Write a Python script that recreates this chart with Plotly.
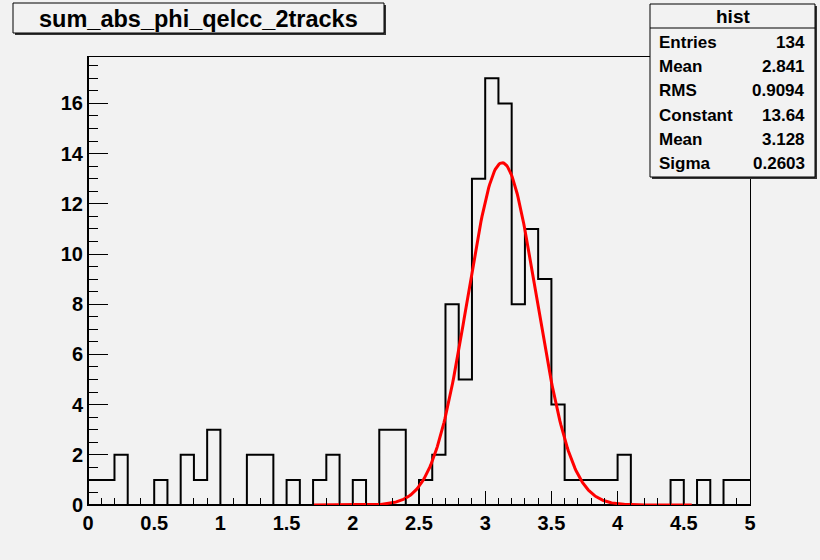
import numpy as np
import plotly.graph_objects as go

# ---- data ----
bin_low = 0.0
bin_width = 0.1
counts = [1, 1, 2, 0, 0, 1, 0, 2, 1, 3,
          0, 0, 2, 2, 0, 1, 0, 1, 2, 0,
          1, 0, 3, 3, 0, 1, 2, 8, 5, 13,
          17, 16, 8, 11, 9, 4, 1, 1, 1, 1,
          2, 0, 0, 0, 1, 0, 1, 0, 1, 1]
fit_constant = 13.64
fit_mean = 3.128
fit_sigma = 0.2603
fit_range = [1.7, 4.56]
title_text = "sum_abs_phi_qelcc_2tracks"
stats_labels = ["Entries", "Mean", "RMS", "Constant", "Mean", "Sigma"]
stats_values = ["134", "2.841", "0.9094", "13.64", "3.128", "0.2603"]
x_ticks = [0, 0.5, 1, 1.5, 2, 2.5, 3, 3.5, 4, 4.5, 5]
x_ticklabels = ["0", "0.5", "1", "1.5", "2", "2.5", "3", "3.5", "4", "4.5", "5"]
y_ticks = [0, 2, 4, 6, 8, 10, 12, 14, 16]
y_ticklabels = ["0", "2", "4", "6", "8", "10", "12", "14", "16"]

# ---- geometry ----
W, H = 820, 560
ML, MR, MT, MB = 88, 70, 57, 55
PW, PH = W - ML - MR, H - MT - MB


def px(x):
    return (x - ML) / PW


def py(y):
    return (H - MB - y) / PH


edges = [round(bin_low + i * bin_width, 6) for i in range(len(counts) + 1)]
step_y = counts + [counts[-1]]

fx = np.linspace(fit_range[0], fit_range[1], 400)
fy = fit_constant * np.exp(-0.5 * ((fx - fit_mean) / fit_sigma) ** 2)

fig = go.Figure()
fig.add_trace(go.Scatter(x=edges, y=step_y, mode="lines", line_shape="hv",
                         line=dict(color="black", width=2), hoverinfo="skip"))
fig.add_trace(go.Scatter(x=fx, y=fy, mode="lines",
                         line=dict(color="#ff0000", width=3), hoverinfo="skip"))

FONT = "Liberation Sans, Arial, sans-serif"
BG = "#f2f2f2"

fig.update_layout(
    width=W, height=H,
    margin=dict(l=ML, r=MR, t=MT, b=MB, pad=0),
    paper_bgcolor=BG, plot_bgcolor=BG,
    showlegend=False,
    font=dict(family=FONT, color="black"),
)
fig.update_xaxes(range=[0, 5], showgrid=False, zeroline=False,
                 showline=True, linecolor="black", linewidth=1, mirror=True,
                 ticks="inside", ticklen=14, tickwidth=1, tickcolor="black",
                 tickvals=x_ticks, ticktext=x_ticklabels,
                 tickfont=dict(size=20, family=FONT, weight="bold"),
                 minor=dict(dtick=0.1, ticks="inside", ticklen=7, tickcolor="black", tickwidth=1))
fig.update_yaxes(range=[0, 17.85], showgrid=False, zeroline=False,
                 showline=True, linecolor="black", linewidth=1, mirror=True,
                 ticks="inside", ticklen=20, tickwidth=1, tickcolor="black",
                 tickvals=y_ticks, ticktext=y_ticklabels,
                 tickfont=dict(size=20, family=FONT, weight="bold"),
                 minor=dict(dtick=0.5, ticks="inside", ticklen=10, tickcolor="black", tickwidth=1))

shapes = []
annots = []

# thicker left / bottom axis lines
shapes.append(dict(type="line", xref="paper", yref="paper", x0=0, x1=0, y0=0, y1=1,
                   line=dict(color="black", width=2), layer="below"))
shapes.append(dict(type="line", xref="paper", yref="paper", x0=0, x1=1, y0=0, y1=0,
                   line=dict(color="black", width=2), layer="below"))


def box(x0, y0, x1, y1):
    # shadow
    shapes.append(dict(type="rect", xref="paper", yref="paper",
                       x0=px(x0 + 2), x1=px(x1 + 2), y0=py(y1 + 2), y1=py(y0 + 2),
                       fillcolor="#333333", line=dict(width=0), layer="above"))
    shapes.append(dict(type="rect", xref="paper", yref="paper",
                       x0=px(x0), x1=px(x1), y0=py(y1), y1=py(y0),
                       fillcolor=BG, line=dict(color="black", width=1), layer="above"))


# title box
box(13, 3, 384, 33)
annots.append(dict(xref="paper", yref="paper", x=px(198), y=py(18.5), text=title_text,
                   showarrow=False, xanchor="center", yanchor="middle",
                   font=dict(size=23.5, family=FONT, weight="bold")))

# stats box
box(650, 4, 815, 177)
shapes.append(dict(type="line", xref="paper", yref="paper",
                   x0=px(650), x1=px(815), y0=py(28), y1=py(28),
                   line=dict(color="black", width=1), layer="above"))
annots.append(dict(xref="paper", yref="paper", x=px(732.5), y=py(16.5), text="hist",
                   showarrow=False, xanchor="center", yanchor="middle",
                   font=dict(size=19, family=FONT, weight="bold")))
row_y = [42, 66.5, 90.5, 115, 139, 163.5]
for lab, val, yy in zip(stats_labels, stats_values, row_y):
    annots.append(dict(xref="paper", yref="paper", x=px(657), y=py(yy), text=lab,
                       showarrow=False, xanchor="left", yanchor="middle",
                       font=dict(size=17, family=FONT, weight="bold")))
    annots.append(dict(xref="paper", yref="paper", x=px(807), y=py(yy), text=val,
                       showarrow=False, xanchor="right", yanchor="middle",
                       font=dict(size=17, family=FONT, weight="bold")))

fig.update_layout(shapes=shapes, annotations=annots)
fig.write_html("out.html")
